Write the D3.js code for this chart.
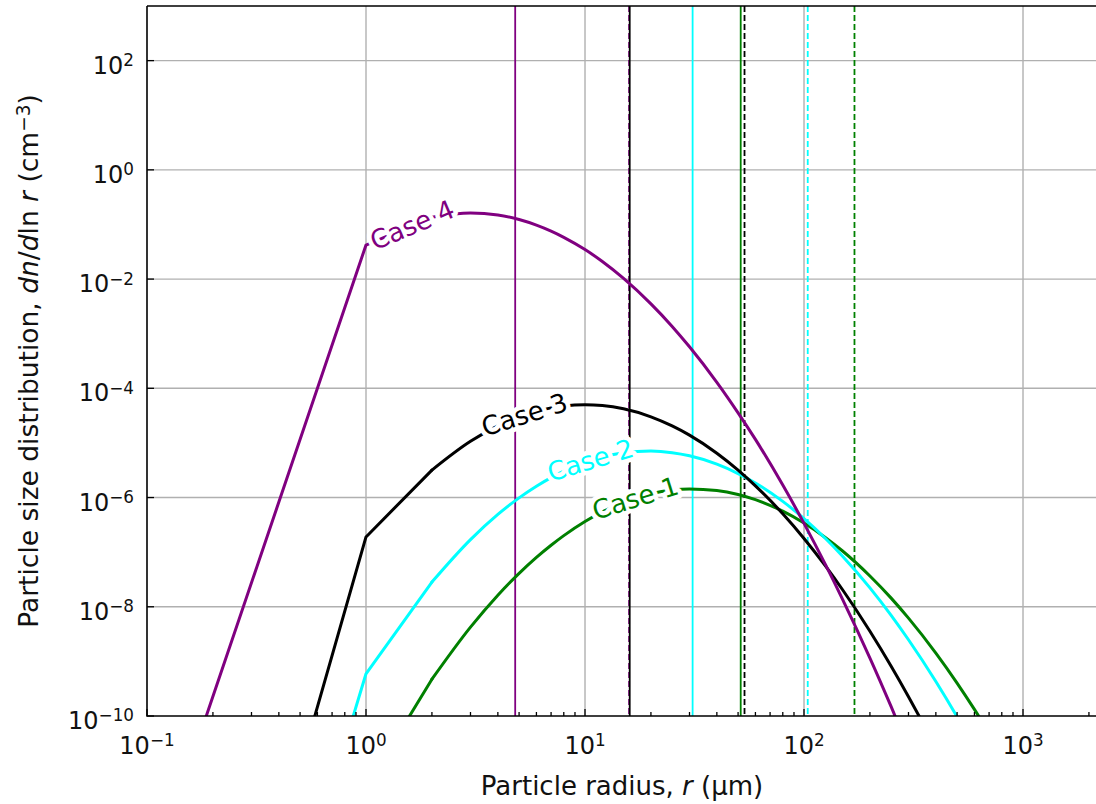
<!DOCTYPE html>
<html>
<head>
<meta charset="utf-8">
<script src="https://cdn.jsdelivr.net/npm/d3@7"></script>
<style>
  body { margin: 0; background: #fff; }
  svg { display: block; }
  text { font-family: "DejaVu Sans", sans-serif; }
</style>
</head>
<body>
<div id="chart"></div>
<script>
// particle radius grid (µm)
const radii = [0.1, 1, 2, 3, 4, 5, 6, 7, 8, 10, 12, 15, 20, 25, 30, 40, 50, 60, 80, 100, 125, 150, 200, 250, 300, 400, 500, 600, 800, 1000]

// dn/dln r (cm^-3) for each case
const case1 = [1e-30, 4.91e-12, 4.71e-10, 4.23e-9, 1.63e-8, 4.09e-8, 8.02e-8, 1.34e-7, 2.01e-7, 3.65e-7, 5.47e-7, 8.17e-7, 1.17e-6, 1.37e-6, 1.44e-6, 1.35e-6, 1.14e-6, 9.16e-7, 5.62e-7, 3.41e-7, 1.86e-7, 1.05e-7, 3.66e-8, 1.44e-8, 6.19e-9, 1.42e-9, 4.01e-10, 1.32e-10, 1.97e-11, 4.01e-12]
const case2 = [3.16e-23, 5.93e-10, 2.84e-8, 1.70e-7, 4.91e-7, 9.86e-7, 1.61e-6, 2.32e-6, 3.04e-6, 4.41e-6, 5.51e-6, 6.58e-6, 7.08e-6, 6.62e-6, 5.81e-6, 4.08e-6, 2.75e-6, 1.85e-6, 8.49e-7, 4.12e-7, 1.80e-7, 8.43e-8, 2.22e-8, 6.97e-9, 2.49e-9, 4.29e-10, 9.68e-11, 2.65e-11, 2.99e-12, 4.85e-13]
const case3 = [1.78e-21, 1.9e-7, 3.18e-6, 1.07e-5, 2.05e-5, 3.01e-5, 3.79e-5, 4.38e-5, 4.75e-5, 5.01e-5, 4.84e-5, 4.21e-5, 3.01e-5, 2.05e-5, 1.39e-5, 6.49e-6, 3.18e-6, 1.64e-6, 5.04e-7, 1.78e-7, 5.65e-8, 2.05e-8, 3.57e-9, 8.17e-10, 2.26e-10, 2.58e-11, 4.25e-12, 8.97e-13, 6.71e-14, 7.94e-15]
const case4 = [6.3e-14, 4.2e-2, 1.36e-1, 1.62e-1, 1.49e-1, 1.23e-1, 9.73e-2, 7.55e-2, 5.82e-2, 3.47e-2, 2.10e-2, 1.03e-2, 3.52e-3, 1.36e-3, 5.75e-4, 1.29e-4, 3.56e-5, 1.16e-5, 1.69e-6, 3.37e-7, 6.04e-8, 1.37e-8, 1.15e-9, 1.48e-10, 2.57e-11, 1.41e-12, 1.29e-13, 1.74e-14, 6.17e-16, 4.07e-17]

const caseNames = ['Case 1', 'Case 2', 'Case 3', 'Case 4']
// vertical markers (µm): solid and dashed line for each case
const solidRadius = [51.4, 31, 16, 4.8]
const dashedRadius = [170, 104, 53.5, 15.9]

const xTicks = [0.1, 1, 10, 100, 1000]
const yTicks = [1e-10, 1e-8, 1e-6, 1e-4, 1e-2, 1, 1e2]

// styling / layout
const colors = ['green', '#00ffff', 'black', 'purple']
const labelAt = [17, 10.6, 5.3, 1.63]   // where each inline label sits (µm)
const W = 1096, H = 804
const pLeft = 147, pRight = 1098, pTop = 6, pBottom = 716

const svg = d3.select('#chart').append('svg')
  .attr('width', W).attr('height', H)

const x = d3.scaleLog().domain([0.1, 2200]).range([pLeft, pRight])
const y = d3.scaleLog().domain([1e-10, 1e3]).range([pBottom, pTop])

svg.append('defs').append('clipPath').attr('id', 'clip')
  .append('rect').attr('x', pLeft).attr('y', pTop)
  .attr('width', pRight - pLeft).attr('height', pBottom - pTop)

// grid
const grid = svg.append('g').attr('stroke', '#b0b0b0').attr('stroke-width', 1.4)
grid.selectAll('.gx').data(xTicks.slice(1)).enter().append('line')
  .attr('x1', d => x(d)).attr('x2', d => x(d)).attr('y1', pTop).attr('y2', pBottom)
grid.selectAll('.gy').data(yTicks.slice(1)).enter().append('line')
  .attr('y1', d => y(d)).attr('y2', d => y(d)).attr('x1', pLeft).attr('x2', pRight)

const plot = svg.append('g').attr('clip-path', 'url(#clip)')

// vertical marker lines
const order = [0, 1, 3, 2]
order.forEach(i => {
  plot.append('line')
    .attr('x1', x(dashedRadius[i])).attr('x2', x(dashedRadius[i]))
    .attr('y1', pTop).attr('y2', pBottom)
    .attr('stroke', colors[i]).attr('stroke-width', 1.8)
    .attr('stroke-dasharray', '6,3')
  plot.append('line')
    .attr('x1', x(solidRadius[i])).attr('x2', x(solidRadius[i]))
    .attr('y1', pTop).attr('y2', pBottom)
    .attr('stroke', colors[i]).attr('stroke-width', 1.8)
})

const series = [case1, case2, case3, case4]
// coarse part of the grid is drawn straight, the rest smoothly
const lineStraight = d3.line().x(d => x(d[0])).y(d => y(d[1]))
const lineSmooth = d3.line().x(d => x(d[0])).y(d => y(d[1])).curve(d3.curveMonotoneX)

series.forEach((vals, i) => {
  const pts = radii.map((r, j) => [r, vals[j]])
  const g = plot.append('g').attr('fill', 'none').attr('stroke', colors[i])
    .attr('stroke-width', 3).attr('stroke-linecap', 'round').attr('stroke-linejoin', 'round')
  g.append('path').attr('d', lineStraight(pts.slice(0, 3)))
  g.append('path').attr('d', lineSmooth(pts.slice(2)))
})

// inline labels, centred on the curve and rotated along it
series.forEach((vals, i) => {
  const r = labelAt[i]
  let j = 0
  while (radii[j + 1] < r) j++
  const x0 = x(radii[j]), x1 = x(radii[j + 1])
  const y0 = y(vals[j]), y1 = y(vals[j + 1])
  const t = (x(r) - x0) / (x1 - x0)
  const px = x0 + t * (x1 - x0), py = y0 + t * (y1 - y0)
  const ang = Math.atan2(y1 - y0, x1 - x0) * 180 / Math.PI
  svg.append('text')
    .attr('transform', `translate(${px},${py}) rotate(${ang})`)
    .attr('text-anchor', 'middle').attr('dy', '0.33em')
    .attr('font-size', 26).attr('fill', colors[i])
    .attr('stroke', 'white').attr('stroke-width', 9).attr('paint-order', 'stroke')
    .attr('stroke-linejoin', 'round')
    .text(caseNames[i])
})

// spines
svg.append('path')
  .attr('d', `M${pLeft},${pTop}H${W + 5}M${pLeft},${pTop}V${pBottom}H${W + 5}`)
  .attr('fill', 'none').attr('stroke', 'black').attr('stroke-width', 1.6)

// ticks (pointing inwards)
const ticks = svg.append('g').attr('stroke', 'black').attr('stroke-width', 1.3)
const minorX = []
for (let e = -1; e <= 3; e++) for (let m = 2; m <= 9; m++) {
  const v = m * Math.pow(10, e)
  if (v < x.domain()[1]) minorX.push(v)
}
ticks.selectAll('.mx').data(minorX).enter().append('line')
  .attr('x1', d => x(d)).attr('x2', d => x(d)).attr('y1', pBottom).attr('y2', pBottom - 4)
ticks.selectAll('.tx').data(xTicks).enter().append('line')
  .attr('x1', d => x(d)).attr('x2', d => x(d)).attr('y1', pBottom).attr('y2', pBottom - 7)
ticks.selectAll('.ty').data(yTicks).enter().append('line')
  .attr('y1', d => y(d)).attr('y2', d => y(d)).attr('x1', pLeft).attr('x2', pLeft + 7)

function powLabel (sel, v) {
  const e = Math.round(Math.log10(v))
  sel.append('tspan').text('10')
  sel.append('tspan').attr('dy', '-0.45em').attr('font-size', '0.7em')
    .text(e < 0 ? '\u2212' + (-e) : String(e))
}

svg.selectAll('.lx').data(xTicks).enter().append('text')
  .attr('x', d => x(d)).attr('y', 754)
  .attr('text-anchor', 'middle').attr('font-size', 24).attr('fill', '#111')
  .each(function (d) { powLabel(d3.select(this), d) })

svg.selectAll('.ly').data(yTicks).enter().append('text')
  .attr('x', 134).attr('y', d => y(d) + 13)
  .attr('text-anchor', 'end').attr('font-size', 24).attr('fill', '#111')
  .each(function (d) { powLabel(d3.select(this), d) })

// axis titles
const xl = svg.append('text').attr('x', 622).attr('y', 795)
  .attr('text-anchor', 'middle').attr('font-size', 26).attr('fill', '#111')
xl.append('tspan').text('Particle radius, ')
xl.append('tspan').attr('font-style', 'italic').text('r')
xl.append('tspan').text(' (\u00b5m)')

const yl = svg.append('text')
  .attr('transform', 'translate(38,361) rotate(-90)')
  .attr('text-anchor', 'middle').attr('font-size', 26.5).attr('fill', '#111')
yl.append('tspan').text('Particle size distribution, ')
yl.append('tspan').attr('font-style', 'italic').text('dn')
yl.append('tspan').text('/')
yl.append('tspan').attr('font-style', 'italic').text('d')
yl.append('tspan').text('ln ')
yl.append('tspan').attr('font-style', 'italic').text('r')
yl.append('tspan').text(' (cm')
yl.append('tspan').attr('dy', '-0.45em').attr('font-size', '0.7em').text('\u22123')
yl.append('tspan').attr('dy', '0.315em').text(')')
</script>
</body>
</html>
